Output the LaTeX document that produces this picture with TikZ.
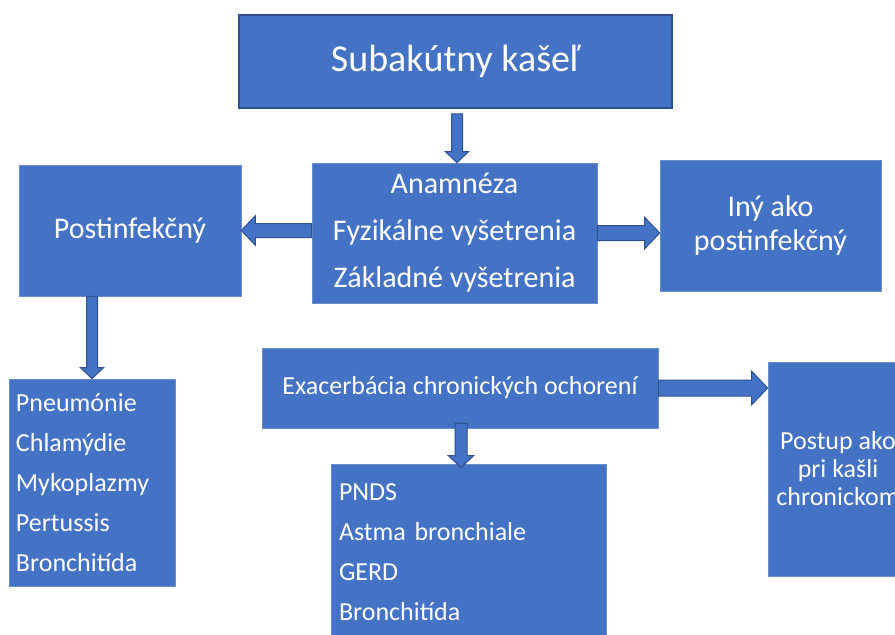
\documentclass[tikz,border=0pt]{standalone}
\usepackage{fontspec}
\setmainfont{Carlito}
\usetikzlibrary{calc}
\definecolor{modra}{HTML}{4472C4}
\definecolor{tmava}{HTML}{2F528F}
\definecolor{okraj}{HTML}{6A8CCB}

% block arrow: [half width of shaft]{from}{to}
\newcommand{\sipka}[3][7]{%
  \path[sipkastyl] let \p1=(#2), \p2=(#3), \n1={atan2(\y2-\y1,\x2-\x1)}, \n2={veclen(\x2-\x1,\y2-\y1)} in
    [shift={(\p1)},rotate=\n1]
    (0pt,-#1pt) -- (\n2-2*#1pt,-#1pt) -- (\n2-2*#1pt,-2.1*#1pt) -- (\n2+0pt,0pt)
    -- (\n2-2*#1pt,2.1*#1pt) -- (\n2-2*#1pt,#1pt) -- (0pt,#1pt) -- cycle;}

\begin{document}
\begin{tikzpicture}[x=1pt,y=-1pt,
    box/.style={fill=modra,draw=okraj,line width=0.6pt,inner sep=0pt,text=white},
    sipkastyl/.style={fill=modra,draw=tmava,line width=1pt}]
    \useasboundingbox (0,0) rectangle (895,635);
    \clip (0,0) rectangle (895,635);

    \node[box,draw=tmava,line width=1.5pt,minimum width=433pt,minimum height=93pt,font=\fontsize{38}{44}\selectfont] (top) at (455.5,61.5) {Subakútny kašeľ};
    \node[box,minimum width=285pt,minimum height=140pt,align=center,font=\fontsize{30}{47}\selectfont] (mid) at (454.5,233) {Anamnéza\\Fyzikálne vyšetrenia\\Základné vyšetrenia};
    \node[box,minimum width=222pt,minimum height=131pt,font=\fontsize{30}{34}\selectfont] (left) at (130,230.5) {Postinfekčný};
    \node[box,minimum width=221pt,minimum height=131pt,align=center,font=\fontsize{30}{34}\selectfont] (right) at (770.5,225.5) {Iný ako\\postinfekčný};
    \node[box,minimum width=166pt,minimum height=207pt,text width=152pt,align=left,font=\fontsize{26}{40}\selectfont] (list) at (92,482.5) {Pneumónie\\Chlamýdie\\Mykoplazmy\\Pertussis\\Bronchitída};
    \node[box,minimum width=396pt,minimum height=80pt,font=\fontsize{26}{30}\selectfont] (exac) at (460,388) {Exacerbácia chronických ochorení};
    \node[box,minimum width=275pt,minimum height=176pt,text width=259pt,align=left,font=\fontsize{26}{40}\selectfont] (pnds) at (468.5,552) {PNDS\\Astma bronchiale\\GERD\\Bronchitída};
    \node[box,minimum width=140pt,minimum height=214pt,align=center,font=\fontsize{26}{28}\selectfont] (post) at (838,469) {Postup ako\\pri kašli\\chronickom};

    \coordinate (t1) at ($(top.south)+(1.5,5)$);
    \coordinate (e1) at ($(exac.south)+(1,-5)$);
    \sipka[5.5]{t1}{t1 |- mid.north}
    \sipka{mid.west |- left.east}{left.east}
    \sipka[7.5]{mid.east}{mid.east -| right.west}
    \sipka[5.5]{list.north |- left.south}{list.north}
    \sipka[8]{exac.east}{exac.east -| post.west}
    \sipka[6]{e1}{$(e1 |- pnds.north)+(0,4)$}
\end{tikzpicture}
\end{document}
